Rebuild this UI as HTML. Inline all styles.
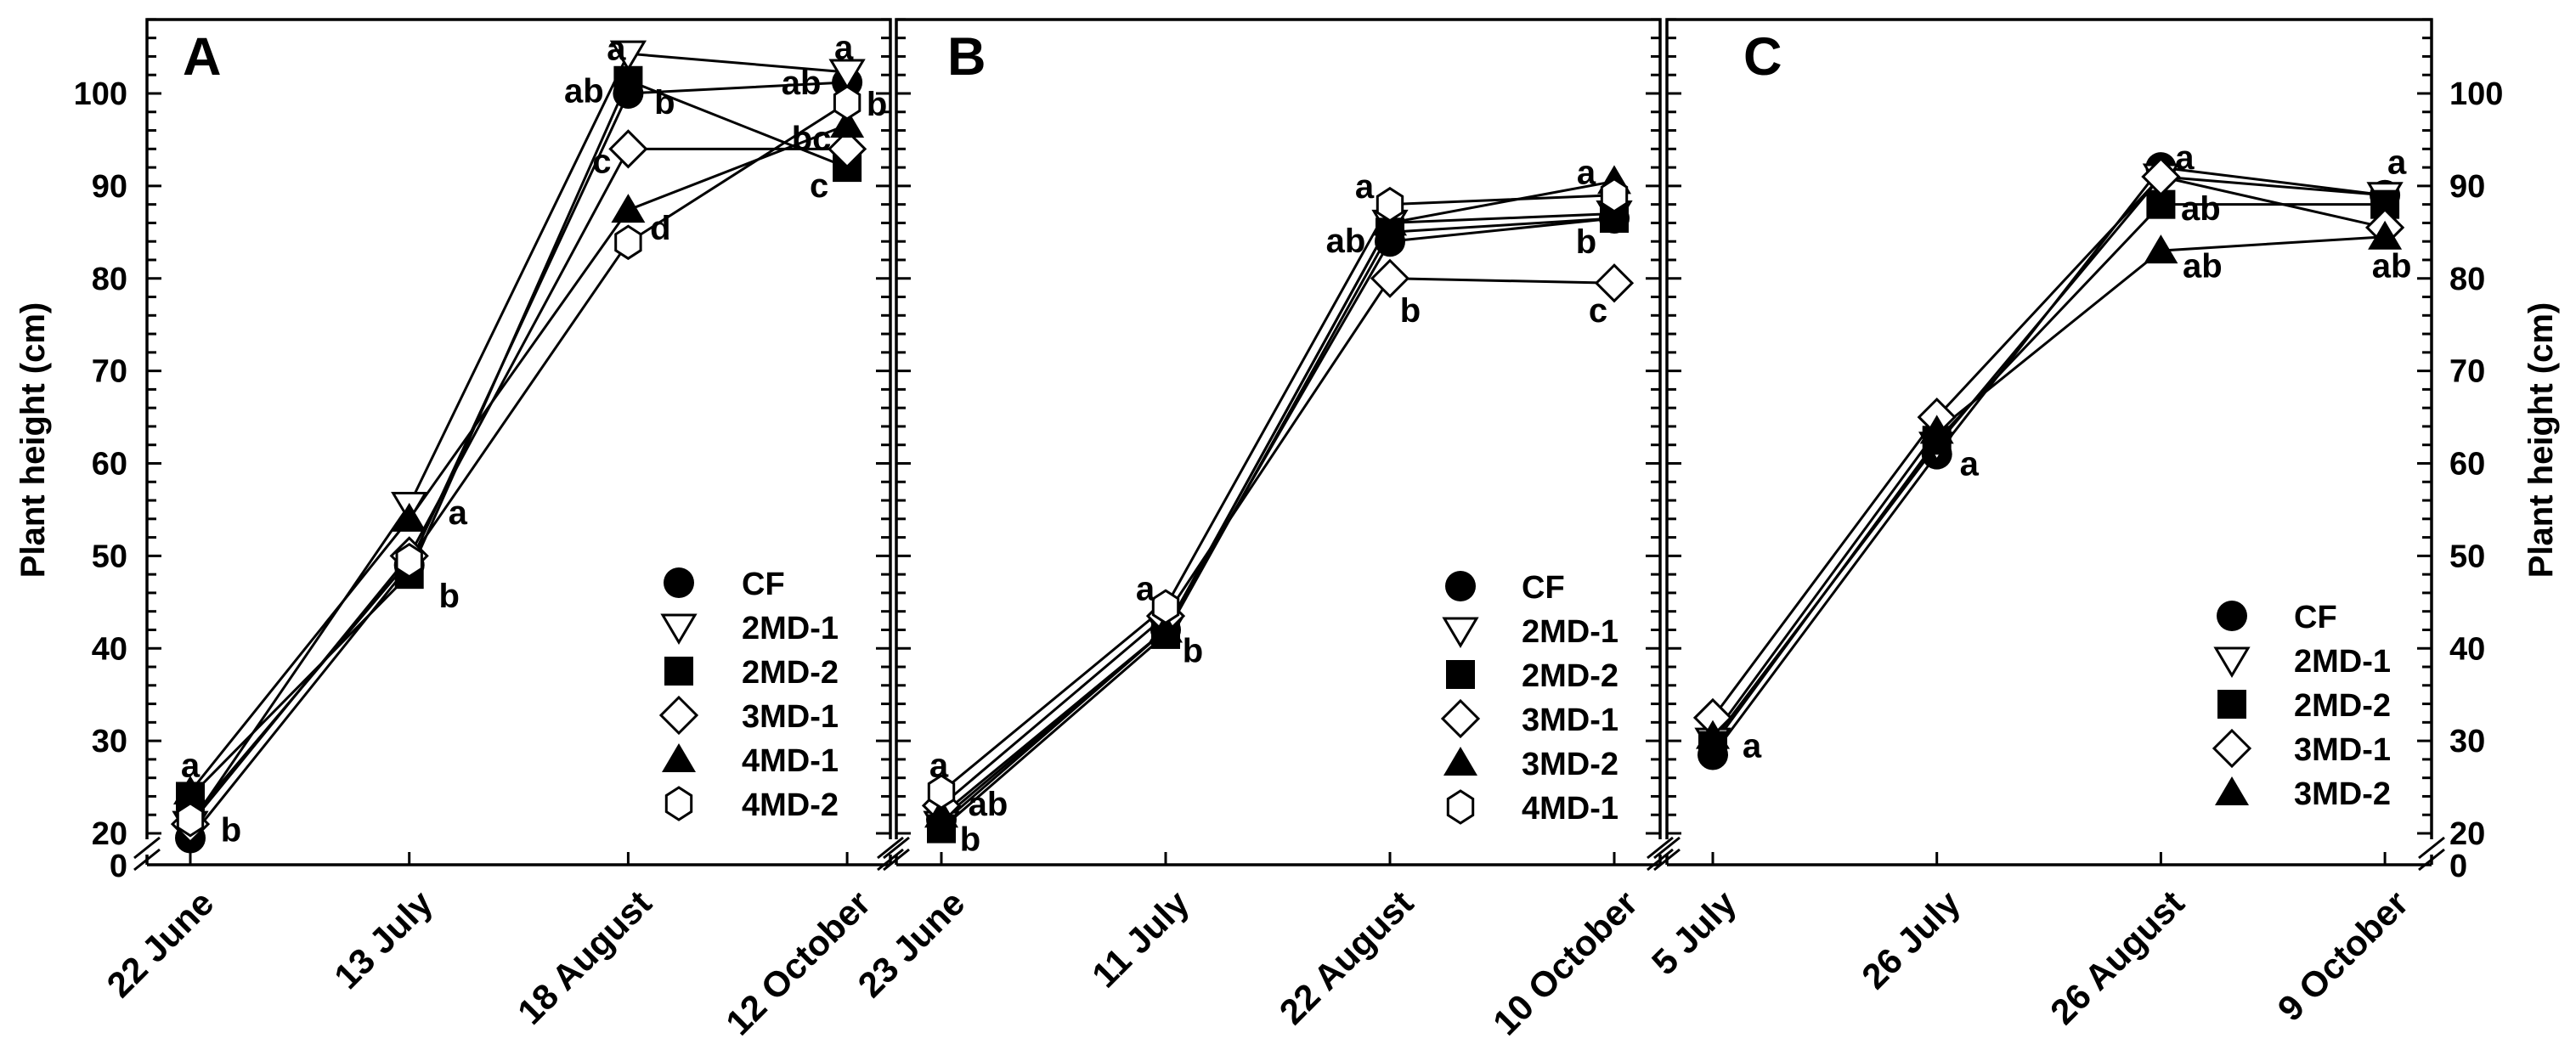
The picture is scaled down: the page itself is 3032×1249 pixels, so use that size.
<!DOCTYPE html>
<html><head><meta charset="utf-8"><style>
html,body{margin:0;padding:0;background:#fff;}
svg{display:block;font-family:"Liberation Sans",Arial,sans-serif;font-weight:bold;}
</style></head><body>
<svg id="fig" width="3032" height="1249" viewBox="0 0 3032 1249" xmlns="http://www.w3.org/2000/svg"></svg>
<script>
// ---- data ----
const catsA = ["22 June","13 July","18 August","12 October"];
const catsB = ["23 June","11 July","22 August","10 October"];
const catsC = ["5 July","26 July","26 August","9 October"];
const namesA = ["CF","2MD-1","2MD-2","3MD-1","4MD-1","4MD-2"];
const namesB = ["CF","2MD-1","2MD-2","3MD-1","3MD-2","4MD-1"];
const namesC = ["CF","2MD-1","2MD-2","3MD-1","3MD-2"];
const shapesA = ["circle","tridown","square","diamond","triup","hex"];
const shapesB = ["circle","tridown","square","diamond","triup","hex"];
const shapesC = ["circle","tridown","square","diamond","triup"];
const valsA_CF   = [19.5, 49.0, 100.0, 101.2];
const valsA_2MD1 = [21.0, 55.5, 104.3, 102.3];
const valsA_2MD2 = [24.0, 48.0, 101.4, 92.0];
const valsA_3MD1 = [21.0, 50.0, 94.0, 94.0];
const valsA_4MD1 = [24.5, 54.0, 87.4, 96.6];
const valsA_4MD2 = [21.5, 49.5, 83.9, 99.0];
const valsB_CF   = [21.5, 42.0, 84.0, 86.5];
const valsB_2MD1 = [21.0, 42.0, 86.0, 87.0];
const valsB_2MD2 = [20.5, 41.5, 85.0, 86.5];
const valsB_3MD1 = [23.0, 43.5, 80.0, 79.5];
const valsB_3MD2 = [22.0, 42.0, 86.0, 90.5];
const valsB_4MD1 = [24.5, 44.5, 88.0, 89.0];
const valsC_CF   = [28.5, 61.0, 92.0, 89.0];
const valsC_2MD1 = [30.0, 62.0, 91.0, 89.0];
const valsC_2MD2 = [29.5, 62.5, 88.0, 88.0];
const valsC_3MD1 = [32.5, 65.0, 91.0, 85.5];
const valsC_3MD2 = [30.5, 63.5, 83.0, 84.5];
const yTicks = [20,30,40,50,60,70,80,90,100];
// annotations: [category index, value, dx]
const letA = [[0,27.4,0,"a"],[0,20.4,48,"b"],[1,54.7,57,"a"],[1,45.7,47,"b"],[2,104.9,-14,"a"],[2,100.3,-52,"ab"],[2,99.1,43,"b"],[2,92.7,-31,"c"],[2,85.5,38,"d"],[3,105,-4,"a"],[3,101.2,-54,"ab"],[3,98.9,35,"b"],[3,95.2,-42,"bc"],[3,90.1,-33,"c"]];
const letB = [[0,27.4,-3,"a"],[0,23.2,55,"ab"],[0,19.4,34,"b"],[1,46.5,-24,"a"],[1,39.8,32,"b"],[2,90,-30,"a"],[2,84.1,-52,"ab"],[2,76.6,24,"b"],[3,91.5,-33,"a"],[3,84,-33,"b"],[3,76.6,-19,"c"]];
const letC = [[0,29.5,46,"a"],[1,60,38,"a"],[2,93.1,28,"a"],[2,87.6,47,"ab"],[2,81.4,49,"ab"],[3,92.6,14,"a"],[3,81.4,8,"ab"]];

// ---- layout ----
const NS="http://www.w3.org/2000/svg";
const svg=document.getElementById('fig');
const Y0=981, AX=1018, TOP=23;
function y(v){return Y0-(v-20)*10.8875;}
function mk(tag,at,parent){const e=document.createElementNS(NS,tag);for(const k in at)e.setAttribute(k,at[k]);(parent||svg).appendChild(e);return e;}
function marker(g,shape,cx,cy){
  let e;
  if(shape==="circle"){e=mk('circle',{cx:cx,cy:cy,r:18,fill:'#000'},g);}
  else if(shape==="square"){e=mk('rect',{x:cx-17,y:cy-17,width:34,height:34,fill:'#000'},g);}
  else if(shape==="tridown"){e=mk('polygon',{points:`${cx-19},${cy-14} ${cx+19},${cy-14} ${cx},${cy+18}`,fill:'#fff',stroke:'#000','stroke-width':3},g);}
  else if(shape==="triup"){e=mk('polygon',{points:`${cx-20},${cy+15} ${cx+20},${cy+15} ${cx},${cy-19}`,fill:'#000'},g);}
  else if(shape==="diamond"){e=mk('polygon',{points:`${cx},${cy-21} ${cx+21},${cy} ${cx},${cy+21} ${cx-21},${cy}`,fill:'#fff',stroke:'#000','stroke-width':3},g);}
  else {let p=[];for(let i=0;i<6;i++){const a=Math.PI/3*i-Math.PI/2;p.push((cx+17*Math.cos(a)).toFixed(1)+','+(cy+19*Math.sin(a)).toFixed(1));}
    e=mk('polygon',{points:p.join(' '),fill:'#fff',stroke:'#000','stroke-width':3},g);}
  return e;
}
function panel(id,L,R,x0,step,cats,names,shapes,series,lets,leg,letter,lx,leftLabels,rightLabels){
  const g=mk('g',{});
  
  
  const X=i=>x0+i*step;
  const fr=mk('path',{d:`M${L},${AX-30} L${L},${TOP} L${R},${TOP} L${R},${AX-30} M${L},${AX} L${R},${AX} M${L},${AX-12} L${L},${AX} M${R},${AX-12} L${R},${AX}`,fill:'none',stroke:'#000','stroke-width':3.5},g);
  
  
  [L,R].forEach(bx=>{[-6,8].forEach(o=>{const b=mk('line',{x1:bx-15,y1:AX-14+o+12,x2:bx+15,y2:AX-14+o-12,stroke:'#000','stroke-width':3},g);
    
    });});
  for(let v=20;v<=108;v+=2){const maj=(v%10===0);const len=maj?17:11;
    const t1=mk('line',{x1:L,y1:y(v),x2:L+len,y2:y(v),stroke:'#000','stroke-width':3},g);
    
    
    const t2=mk('line',{x1:R,y1:y(v),x2:R-len,y2:y(v),stroke:'#000','stroke-width':3},g);
    
    }
  yTicks.forEach(v=>{
    if(leftLabels){const t=mk('text',{x:150,y:y(v)+13,'text-anchor':'end','font-size':38},g);t.textContent=v;
      
      }
    if(rightLabels){const t=mk('text',{x:R+21,y:y(v)+13,'text-anchor':'start','font-size':38},g);t.textContent=v;
      
      }
  });
  if(leftLabels){const t=mk('text',{x:150,y:AX+14,'text-anchor':'end','font-size':38},g);t.textContent='0';
    
    }
  if(rightLabels){const t=mk('text',{x:R+21,y:AX+14,'text-anchor':'start','font-size':38},g);t.textContent='0';
    
    }
  cats.forEach((c,i)=>{
    const t=mk('line',{x1:X(i),y1:AX,x2:X(i),y2:AX-15,stroke:'#000','stroke-width':3},g);
    
    
    const ax=X(i)+30, ay=1066;
    const tx=mk('text',{x:ax,y:ay,'text-anchor':'end','font-size':42,transform:`rotate(-45 ${ax} ${ay})`},g);
    tx.textContent=c;
    
    
  });
  series.forEach((vals,s)=>{
    const sg=mk('g',{},g);
    
    
    const ln=mk('polyline',{points:vals.map((v,i)=>X(i)+','+y(v)).join(' '),fill:'none',stroke:'#000','stroke-width':3},sg);
    
    
  });
  series.forEach((vals,s)=>{
    vals.forEach((v,i)=>{const m=marker(g,shapes[s],X(i),y(v));
      
      });
  });
  lets.forEach(a=>{const t=mk('text',{x:X(a[0])+a[2],y:y(a[1])+14,'text-anchor':'middle','font-size':40},g);t.textContent=a[3];
    
    });
  names.forEach((n,i)=>{const cy=leg[2]+i*52;
    const m=marker(g,shapes[i],leg[0],cy);
    
    
    const t=mk('text',{x:leg[1],y:cy+14,'font-size':38},g);t.textContent=n;
    
    });
  const pl=mk('text',{x:lx,y:88,'font-size':63},g);pl.textContent=letter;
  
  
}
panel('A',173,1048,224,257.7,catsA,namesA,shapesA,[valsA_CF,valsA_2MD1,valsA_2MD2,valsA_3MD1,valsA_4MD1,valsA_4MD2],letA,[799,873,686],'A',215,true,false);
panel('B',1055,1954,1108,264,catsB,namesB,shapesB,[valsB_CF,valsB_2MD1,valsB_2MD2,valsB_3MD1,valsB_3MD2,valsB_4MD1],letB,[1719,1791,690],'B',1115,false,false);
panel('C',1962,2862,2016,263.7,catsC,namesC,shapesC,[valsC_CF,valsC_2MD1,valsC_2MD2,valsC_3MD1,valsC_3MD2],letC,[2627,2700,725],'C',2052,false,true);
const yl=mk('text',{x:52,y:518,'text-anchor':'middle','font-size':40,transform:'rotate(-90 52 518)'});
yl.textContent='Plant height (cm)';


const yr=mk('text',{x:3004,y:518,'text-anchor':'middle','font-size':40,transform:'rotate(-90 3004 518)'});
yr.textContent='Plant height (cm)';


</script>
</body></html>
